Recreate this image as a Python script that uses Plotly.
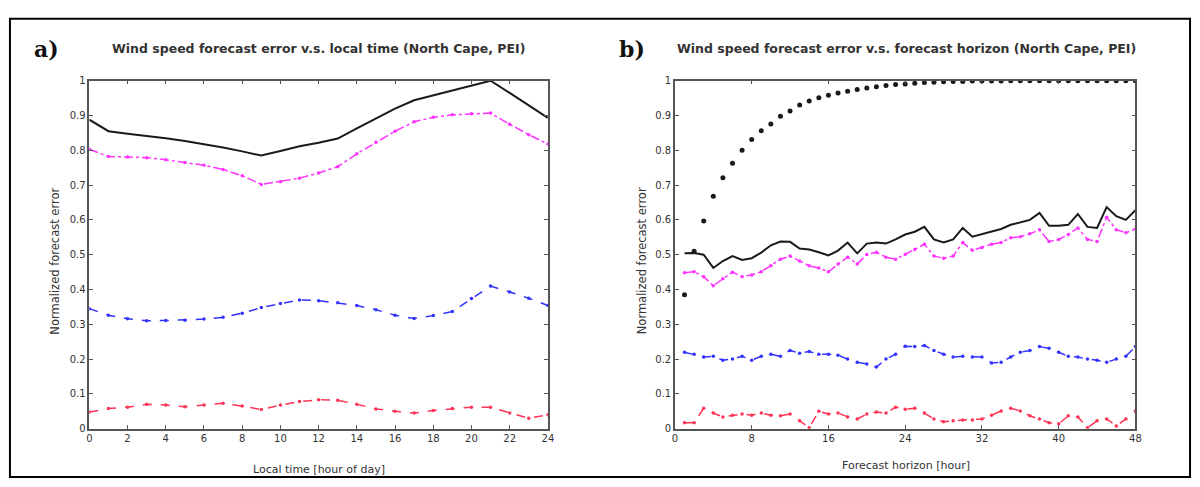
import plotly.graph_objects as go

# ---- Panel a: error vs local time (hour of day) ----
hours = list(range(0, 25))
a_black = [0.888, 0.855, 0.848, 0.842, 0.835, 0.827, 0.818, 0.808, 0.797, 0.785,
           0.798, 0.812, 0.822, 0.834, 0.863, 0.892, 0.920, 0.944, 0.958, 0.970,
           0.985, 1.000, 0.965, 0.930, 0.893]
a_magenta = [0.803, 0.782, 0.781, 0.779, 0.773, 0.765, 0.757, 0.745, 0.727, 0.702,
             0.710, 0.720, 0.735, 0.753, 0.790, 0.823, 0.855, 0.882, 0.895, 0.902,
             0.905, 0.907, 0.875, 0.845, 0.818]
a_blue = [0.345, 0.326, 0.316, 0.310, 0.311, 0.312, 0.315, 0.320, 0.332, 0.348,
          0.360, 0.370, 0.368, 0.362, 0.354, 0.342, 0.326, 0.317, 0.325, 0.337,
          0.374, 0.410, 0.393, 0.375, 0.354]
a_red = [0.048, 0.058, 0.062, 0.070, 0.068, 0.063, 0.068, 0.073, 0.065, 0.055,
         0.068, 0.078, 0.083, 0.082, 0.070, 0.057, 0.050, 0.045, 0.052, 0.058,
         0.062, 0.062, 0.045, 0.030, 0.040]

# ---- Panel b: error vs forecast horizon ----
horizon = list(range(1, 49))
b_dots = [0.385, 0.510, 0.597, 0.668, 0.721, 0.763, 0.800, 0.831, 0.856, 0.876,
          0.898, 0.913, 0.930, 0.942, 0.951, 0.958, 0.965, 0.970, 0.975, 0.979,
          0.983, 0.986, 0.989, 0.991, 0.993, 0.995, 0.996, 0.997, 0.998, 0.998,
          0.999, 0.999, 0.999, 0.999, 1.000, 1.000, 1.000, 1.000, 1.000, 1.000,
          1.000, 1.000, 1.000, 1.000, 1.000, 1.000, 1.000, 1.000]
b_black = [0.504, 0.505, 0.500, 0.462, 0.482, 0.496, 0.485, 0.490, 0.506, 0.527,
           0.538, 0.537, 0.518, 0.515, 0.507, 0.498, 0.512, 0.535, 0.504, 0.532,
           0.535, 0.532, 0.544, 0.558, 0.566, 0.580, 0.544, 0.535, 0.544, 0.577,
           0.552, 0.560, 0.566, 0.574, 0.586, 0.592, 0.600, 0.620, 0.583, 0.583,
           0.586, 0.617, 0.580, 0.577, 0.637, 0.611, 0.600, 0.628]
b_magenta = [0.448, 0.451, 0.437, 0.411, 0.431, 0.450, 0.437, 0.442, 0.451, 0.468,
             0.487, 0.496, 0.482, 0.468, 0.462, 0.451, 0.473, 0.493, 0.473, 0.501,
             0.507, 0.493, 0.487, 0.501, 0.515, 0.530, 0.496, 0.490, 0.496, 0.535,
             0.513, 0.521, 0.530, 0.535, 0.549, 0.552, 0.560, 0.572, 0.538, 0.544,
             0.558, 0.577, 0.544, 0.538, 0.608, 0.572, 0.563, 0.574]
b_blue = [0.220, 0.214, 0.206, 0.208, 0.197, 0.200, 0.208, 0.197, 0.208, 0.214,
          0.208, 0.225, 0.217, 0.222, 0.214, 0.214, 0.211, 0.200, 0.191, 0.186,
          0.177, 0.200, 0.214, 0.237, 0.236, 0.239, 0.225, 0.214, 0.206, 0.208,
          0.206, 0.206, 0.189, 0.191, 0.206, 0.220, 0.225, 0.236, 0.231, 0.220,
          0.208, 0.206, 0.200, 0.197, 0.191, 0.200, 0.208, 0.236]
b_red = [0.017, 0.017, 0.059, 0.045, 0.034, 0.039, 0.042, 0.039, 0.045, 0.039,
         0.037, 0.042, 0.023, 0.003, 0.050, 0.042, 0.045, 0.034, 0.028, 0.042,
         0.048, 0.045, 0.062, 0.056, 0.059, 0.045, 0.028, 0.020, 0.023, 0.025,
         0.025, 0.028, 0.039, 0.051, 0.059, 0.051, 0.037, 0.028, 0.017, 0.014,
         0.037, 0.034, 0.003, 0.023, 0.028, 0.008, 0.028, 0.051]

a_xticks = list(range(0, 25, 2))
b_xticks = list(range(0, 49, 8))
y_ticks = [i / 10 for i in range(11)]
y_ticklabels = ["0", "0.1", "0.2", "0.3", "0.4", "0.5", "0.6", "0.7", "0.8", "0.9", "1"]

BLACK = "#1a1a1a"
MAGENTA = "#ff33ff"
BLUE = "#3333ff"
RED = "#ff3355"
FONT = "DejaVu Sans, Liberation Sans, Arial"

fig = go.Figure()


def add_series(x, y, xa, ya, color, dash, width, markers):
    fig.add_trace(go.Scatter(
        x=x, y=y, xaxis=xa, yaxis=ya,
        mode="lines+markers" if markers else "lines",
        line=dict(color=color, width=width, dash=dash),
        marker=dict(color=color, size=3.5, symbol="circle"),
        showlegend=False, hoverinfo="skip",
    ))


add_series(hours, a_black, "x", "y", BLACK, "solid", 2, False)
add_series(hours, a_magenta, "x", "y", MAGENTA, "dashdot", 1.5, True)
add_series(hours, a_blue, "x", "y", BLUE, "dash", 1.5, True)
add_series(hours, a_red, "x", "y", RED, "dash", 1.5, True)

add_series(horizon, b_black, "x2", "y2", BLACK, "solid", 2, False)
add_series(horizon, b_magenta, "x2", "y2", MAGENTA, "dashdot", 1.5, True)
add_series(horizon, b_blue, "x2", "y2", BLUE, "dash", 1.5, True)
add_series(horizon, b_red, "x2", "y2", RED, "dash", 1.5, True)
fig.add_trace(go.Scatter(
    x=horizon, y=b_dots, xaxis="x2", yaxis="y2", mode="markers",
    marker=dict(color=BLACK, size=5, symbol="circle"),
    showlegend=False, hoverinfo="skip",
))

axis_common = dict(
    showline=True, mirror="ticks", linecolor="#555555", linewidth=1.5,
    ticks="inside", ticklen=4, tickcolor="#555555", showgrid=False,
    zeroline=False, tickfont=dict(family=FONT, size=10, color="#333333"),
)
y_dom = [1 - 433.5 / 487, 1 - 77.5 / 487]

fig.update_layout(
    width=1200, height=487,
    margin=dict(l=0, r=0, t=0, b=0),
    paper_bgcolor="white", plot_bgcolor="white",
    xaxis=dict(domain=[87 / 1200, 549 / 1200], range=[0, 24],
               tickvals=a_xticks, anchor="y", **axis_common),
    yaxis=dict(domain=y_dom, range=[0, 1], tickvals=y_ticks,
               ticktext=y_ticklabels, anchor="x", **axis_common),
    xaxis2=dict(domain=[677 / 1200, 1141 / 1200], range=[0, 48],
                tickvals=b_xticks, anchor="y2", **axis_common),
    yaxis2=dict(domain=y_dom, range=[0, 1], tickvals=y_ticks,
                ticktext=y_ticklabels, anchor="x2", **axis_common),
)

# outer frame
fig.add_shape(type="rect", xref="paper", yref="paper",
              x0=7 / 1200, x1=1196 / 1200, y0=1 - 483 / 487, y1=1 - 14 / 487,
              line=dict(color="black", width=2))


def px_ann(text, x, y, size, bold=False, angle=0, family=FONT, color="#333333"):
    fig.add_annotation(
        text=f"<b>{text}</b>" if bold else text,
        x=x / 1200, y=1 - y / 487, xref="paper", yref="paper",
        showarrow=False, textangle=angle, xanchor="center", yanchor="middle",
        font=dict(family=family, size=size, color=color),
    )


px_ann("a)", 44, 45, 22, bold=True, family="DejaVu Serif", color="#111111")
px_ann("b)", 634, 45, 22, bold=True, family="DejaVu Serif", color="#111111")
px_ann("Wind speed forecast error v.s. local time (North Cape, PEI)", 318, 45, 12.5, bold=True)
px_ann("Wind speed forecast error v.s. forecast horizon (North Cape, PEI)", 910, 45, 12.5, bold=True)
px_ann("Normalized forecast error", 52, 262, 11.5, angle=-90)
px_ann("Normalized forecast error", 644, 262, 11.5, angle=-90)
px_ann("Local time [hour of day]", 318, 475, 11)
px_ann("Forecast horizon [hour]", 910, 471, 11)

fig.write_html("out.html")
